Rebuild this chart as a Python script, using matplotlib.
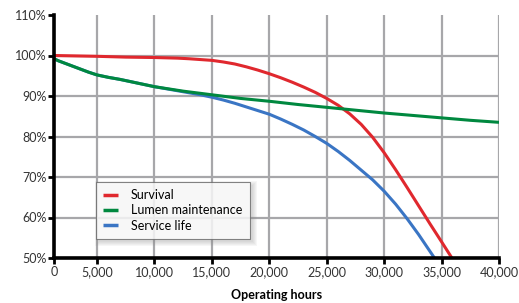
import numpy as np
import matplotlib
matplotlib.use('Agg')
import matplotlib.pyplot as plt
from matplotlib.ticker import FuncFormatter
from matplotlib.patches import Rectangle
from matplotlib.transforms import IdentityTransform

plt.rcParams['font.family'] = ['Lato', 'DejaVu Sans']

# values (hours, percent)
survival_h = [0, 2500, 5000, 7500, 10000, 12000, 13000, 14000, 15000, 16000,
              17000, 18000, 19000, 20000, 21000, 22000, 23000, 24000, 25000,
              26000, 27000, 28000, 29000, 30000, 31000, 32000, 33000, 34000,
              35000, 35900]
survival = [100, 99.9, 99.8, 99.6, 99.5, 99.35, 99.2, 99.0, 98.8, 98.4,
            97.9, 97.2, 96.4, 95.5, 94.5, 93.4, 92.2, 90.9, 89.4,
            87.7, 85.6, 83.0, 79.8, 76.0, 71.8, 67.4, 62.9, 58.4,
            54.0, 50]

lumen_h = [0, 500, 1000, 1500, 2000, 2500, 3000, 4000, 5000, 6000, 7000,
           8000, 9000, 10000, 12500, 15000, 17500, 20000, 22500, 25000,
           27500, 30000, 32500, 35000, 37500, 40000]
lumen = [99.2, 98.7, 98.3, 97.9, 97.5, 97.1, 96.7, 95.9, 95.2, 94.6, 94.1,
         93.5, 92.9, 92.3, 91.2, 90.3, 89.4, 88.7, 87.9, 87.2,
         86.5, 85.8, 85.2, 84.6, 84.0, 83.5]

service_h = [0, 500, 1000, 1500, 2000, 2500, 3000, 4000, 5000, 6000, 7000,
             8000, 9000, 10000, 11000, 12000, 13000, 14000, 15000, 16000,
             17000, 18000, 19000, 20000, 21000, 22000, 23000, 24000, 25000,
             26000, 27000, 28000, 29000, 30000, 31000, 32000, 33000, 34000,
             34380]
service = [99.2, 98.7, 98.3, 97.9, 97.5, 97.1, 96.7, 95.9, 95.2, 94.6, 94.1,
           93.5, 92.9, 92.3, 91.8, 91.3, 90.8, 90.3, 89.7, 89.0,
           88.2, 87.3, 86.4, 85.5, 84.3, 83.0, 81.6, 80.0, 78.3,
           76.3, 74.1, 71.7, 69.3, 66.5, 63.3, 59.7, 55.8, 51.6,
           50]

x_ticks = [0, 5000, 10000, 15000, 20000, 25000, 30000, 35000, 40000]
y_ticks = [50, 60, 70, 80, 90, 100, 110]

# the first x interval is drawn shorter than the others in the original
k = 3746 / 5000


def fwd(x):
    x = np.asarray(x, dtype=float)
    return np.where(x < 5000, x * k, x - 1254)


def inv(y):
    y = np.asarray(y, dtype=float)
    return np.where(y < 3746, y / k, y + 1254)


fig = plt.figure(figsize=(5.19, 3.03), dpi=100)
ax = fig.add_axes([54 / 519, 1 - 258 / 303, 445 / 519, 243 / 303])
ax.set_xscale('function', functions=(fwd, inv))

ax.plot(survival_h, survival, color='#e0282e', lw=2.2, label='Survival',
        solid_capstyle='butt', solid_joinstyle='round', zorder=3)
ax.plot(lumen_h, lumen, color='#00883f', lw=2.2, label='Lumen maintenance',
        solid_capstyle='butt', solid_joinstyle='round', zorder=4)
ax.plot(service_h, service, color='#3a75c4', lw=2.2, label='Service life',
        solid_capstyle='butt', solid_joinstyle='round', zorder=3)

ax.set_xlim(0, 40000)
ax.set_ylim(50, 110)
ax.set_xticks(x_ticks)
ax.set_yticks(y_ticks)
ax.xaxis.set_major_formatter(FuncFormatter(lambda v, p: f'{int(v):,}'))
ax.yaxis.set_major_formatter(FuncFormatter(lambda v, p: f'{int(v)}%'))
ax.xaxis.set_minor_locator(plt.NullLocator())

ax.grid(True, color='#a7a7aa', lw=1.6, zorder=1)
ax.set_axisbelow(True)
ax.yaxis.get_gridlines()[-1].set_visible(False)

for s in ['top', 'right']:
    ax.spines[s].set_visible(False)
for s in ['left', 'bottom']:
    ax.spines[s].set_linewidth(2.6)
    ax.spines[s].set_color('black')
    ax.spines[s].set_zorder(5)

ax.tick_params(axis='both', colors='black', width=2, length=4,
               labelcolor='#333333', labelsize=9)
ax.tick_params(axis='y', pad=1)
ax.tick_params(axis='x', pad=2)

ax.set_xlabel('Operating hours', fontsize=9, fontweight='bold', labelpad=8)

leg = ax.legend(loc='lower left', bbox_to_anchor=(0.094, 0.078),
                fontsize=9, frameon=True, fancybox=False,
                handlelength=1.2, handletextpad=1.0, borderpad=0.6,
                labelspacing=0.25, borderaxespad=0)
leg.get_frame().set_edgecolor('#666666')
leg.get_frame().set_linewidth(0.8)
leg.set_zorder(6)
for line in leg.get_lines():
    line.set_linewidth(2.5)

# soft blurred drop shadow behind the legend box
fig.canvas.draw()
bb = leg.get_frame().get_window_extent(fig.canvas.get_renderer())
for i in range(5):
    grow = 4 - i
    ax.add_patch(Rectangle((bb.x0 + 3 - grow, bb.y0 - 3 - grow),
                           bb.width + 2 * grow, bb.height + 2 * grow,
                           transform=IdentityTransform(), facecolor='#888888',
                           edgecolor='none', alpha=0.07, zorder=5.5,
                           clip_on=False))

fig.savefig('out.png', dpi=100)
